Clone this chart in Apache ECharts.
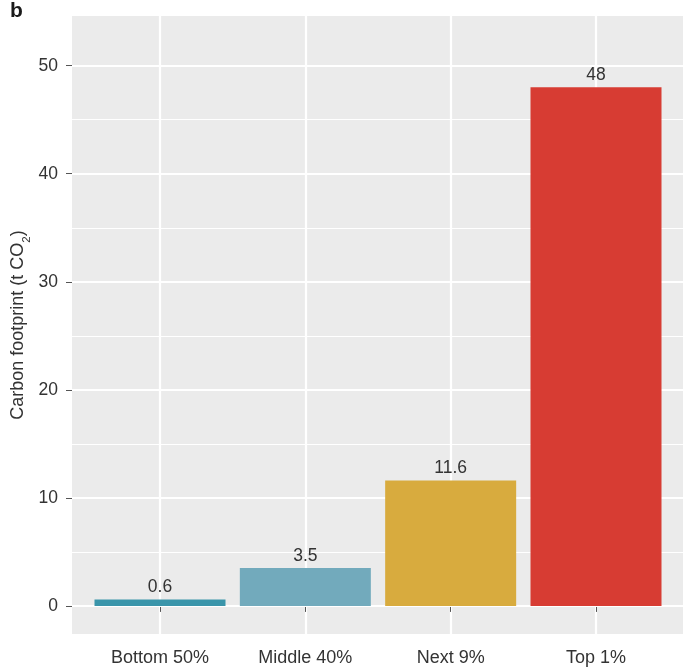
<!DOCTYPE html>
<html>
<head>
<meta charset="utf-8">
<script src="https://cdn.jsdelivr.net/npm/echarts@6/dist/echarts.min.js"></script>
<style>html,body{margin:0;padding:0;background:#fff}#c{width:683px;height:671px}</style>
</head>
<body>
<div id="c"></div>
<script>
const categories = ['Bottom 50%', 'Middle 40%', 'Next 9%', 'Top 1%'];
const values = [0.6, 3.5, 11.6, 48];
const labels = ['0.6', '3.5', '11.6', '48'];
const barColors = ['#3a95aa', '#72aabc', '#d8ab3e', '#d73c33'];
const yTicks = [0, 10, 20, 30, 40, 50];
const yMinorLines = [5, 15, 25, 35, 45];
const yMin = -2.6, yMax = 54.6;

const font = '"Liberation Sans", Arial, Helvetica, sans-serif';
const chart = echarts.init(document.getElementById('c'), null, {renderer: 'canvas'});
const gridTop = 16, gridBottom = 37;

chart.setOption({
  animation: false,
  backgroundColor: '#ffffff',
  textStyle: {fontFamily: font},
  graphic: [{
    type: 'text', left: 10, top: 1,
    style: {text: 'b', font: 'bold 21px ' + font, fill: '#1a1a1a'}
  }],
  grid: [
    {left: 72, right: 0, top: gridTop, bottom: gridBottom, backgroundColor: '#ebebeb', show: true, borderWidth: 0, outerBoundsMode: 'none', containLabel: false},
    {left: 160, right: 87, top: gridTop, bottom: gridBottom, outerBoundsMode: 'none', containLabel: false}
  ],
  xAxis: [
    {gridIndex: 0, type: 'value', min: 0, max: 1, show: false},
    {
      gridIndex: 1, type: 'category', data: categories, boundaryGap: false,
      axisLine: {show: false},
      axisTick: {show: true, length: 6, lineStyle: {color: '#555', width: 1}},
      axisLabel: {fontSize: 18, color: '#333', margin: 15, fontFamily: font},
      splitLine: {show: true, lineStyle: {color: '#ffffff', width: 2.2}}
    }
  ],
  yAxis: [
    {
      gridIndex: 0, type: 'value', min: yMin, max: yMax,
      name: 'Carbon footprint (t CO{sub|2})',
      nameLocation: 'middle', nameGap: 45, nameRotate: 90, nameMoveOverlap: false,
      nameTextStyle: {fontSize: 18, color: '#333', fontFamily: font,
        rich: {sub: {fontSize: 11.5, verticalAlign: 'bottom', padding: [0, 0, -6, 0], color: '#333', fontFamily: font}}},
      axisLine: {show: false},
      axisTick: {show: true, length: 6, customValues: yTicks, lineStyle: {color: '#555', width: 1}},
      axisLabel: {fontSize: 17.5, color: '#333', margin: 14, customValues: yTicks, fontFamily: font},
      splitLine: {show: false}
    },
    {gridIndex: 1, type: 'value', min: yMin, max: yMax, show: false, splitLine: {show: false}}
  ],
  series: [
    {
      type: 'line', xAxisIndex: 0, yAxisIndex: 0, data: [], silent: true, z: 1,
      markLine: {
        silent: true, symbol: 'none', label: {show: false}, animation: false, z: 1,
        data: yTicks.map(v => ({yAxis: v, lineStyle: {color: '#fff', width: 2.2, type: 'solid'}}))
          .concat(yMinorLines.map(v => ({yAxis: v, lineStyle: {color: '#fff', width: 1.1, type: 'solid'}})))
      }
    },
    {
      type: 'bar', xAxisIndex: 1, yAxisIndex: 1, z: 10, barWidth: 131,
      data: values.map((v, i) => ({value: v, itemStyle: {color: barColors[i]}})),
      label: {
        show: true, position: 'top', distance: 3, fontSize: 17.5, color: '#333', fontFamily: font,
        formatter: p => labels[p.dataIndex]
      }
    }
  ]
});
</script>
</body>
</html>
